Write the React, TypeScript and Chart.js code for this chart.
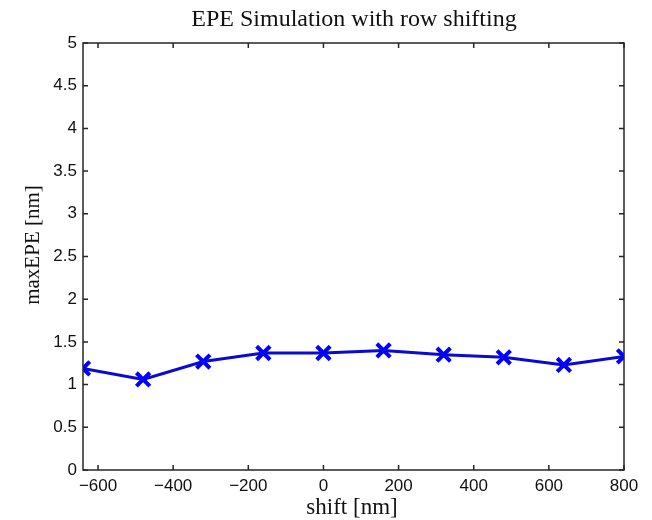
import React, { useEffect, useRef } from "react";
import { Chart, registerables } from "chart.js";

Chart.register(...registerables);

const titleText = "EPE Simulation with row shifting";
const xLabel = "shift [nm]";
const yLabel = "maxEPE [nm]";

const shiftValues = [-640, -480, -320, -160, 0, 160, 320, 480, 640, 800];
const maxEPEValues = [1.19, 1.06, 1.27, 1.37, 1.37, 1.4, 1.35, 1.32, 1.23, 1.33];

const xTickValues = [-600, -400, -200, 0, 200, 400, 600, 800];
const yTickValues = [0, 0.5, 1, 1.5, 2, 2.5, 3, 3.5, 4, 4.5, 5];

const X_MIN = -640;
const X_MAX = 800;
const Y_MIN = 0;
const Y_MAX = 5;

const serif = "'Liberation Serif', 'DejaVu Serif', serif";
const sans = "'Liberation Sans', 'DejaVu Sans', sans-serif";

const matlabFrame = {
  id: "matlabFrame",
  afterDraw(chart: any) {
    const { ctx, chartArea } = chart;
    const xs = chart.scales.x;
    const ys = chart.scales.y;
    const { left, right, top, bottom } = chartArea;
    const tl = 5;
    ctx.save();
    ctx.strokeStyle = "#262626";
    ctx.lineWidth = 1.5;
    ctx.strokeRect(left, top, right - left, bottom - top);
    ctx.beginPath();
    for (const v of xTickValues) {
      const px = xs.getPixelForValue(v);
      ctx.moveTo(px, bottom);
      ctx.lineTo(px, bottom - tl);
      ctx.moveTo(px, top);
      ctx.lineTo(px, top + tl);
    }
    for (const v of yTickValues) {
      const py = ys.getPixelForValue(v);
      ctx.moveTo(left, py);
      ctx.lineTo(left + tl, py);
      ctx.moveTo(right, py);
      ctx.lineTo(right - tl, py);
    }
    ctx.stroke();

    ctx.fillStyle = "#111";
    ctx.textAlign = "center";
    ctx.textBaseline = "middle";
    ctx.font = `24px ${serif}`;
    ctx.fillText(titleText, 354, 20);
    ctx.font = `23px ${serif}`;
    ctx.fillText(xLabel, 352, 508);
    ctx.font = `21px ${serif}`;
    ctx.translate(33, 245);
    ctx.rotate(-Math.PI / 2);
    ctx.fillText(yLabel, 0, 0);
    ctx.restore();
  },
};

export default function App() {
  const ref = useRef<HTMLCanvasElement | null>(null);

  useEffect(() => {
    if (!ref.current) return;
    const fmt = (v: any) => String(v).replace("-", "\u2212");
    const chart = new Chart(ref.current, {
      type: "line",
      data: {
        datasets: [
          {
            data: shiftValues.map((x, i) => ({ x, y: maxEPEValues[i] })),
            borderColor: "#0a0ad0",
            borderWidth: 3,
            pointStyle: "crossRot",
            pointRadius: 9.5,
            pointBorderWidth: 4,
            pointBorderColor: "#0000ff",
            pointBackgroundColor: "#0000ff",
            tension: 0,
            fill: false,
          },
        ],
      },
      options: {
        responsive: false,
        animation: false,
        layout: { padding: { top: 43, right: 28, left: 0, bottom: 0 } },
        plugins: {
          legend: { display: false },
          tooltip: { enabled: false },
          title: { display: false },
        },
        scales: {
          x: {
            type: "linear",
            min: X_MIN,
            max: X_MAX,
            afterBuildTicks: (s: any) => {
              s.ticks = xTickValues.map((v) => ({ value: v }));
            },
            afterFit: (s: any) => {
              s.height = 50;
            },
            grid: { display: false, drawTicks: false },
            border: { display: false },
            ticks: {
              padding: 6,
              color: "#111",
              font: { family: sans, size: 17 },
              maxRotation: 0,
              autoSkip: false,
              callback: fmt,
            },
          },
          y: {
            type: "linear",
            min: Y_MIN,
            max: Y_MAX,
            afterBuildTicks: (s: any) => {
              s.ticks = yTickValues.map((v) => ({ value: v }));
            },
            afterFit: (s: any) => {
              s.width = 83;
            },
            grid: { display: false, drawTicks: false },
            border: { display: false },
            ticks: {
              padding: 6,
              color: "#111",
              font: { family: sans, size: 17 },
              autoSkip: false,
              callback: fmt,
            },
          },
        },
      },
      plugins: [matlabFrame],
    });
    return () => chart.destroy();
  }, []);

  return (
    <div style={{ position: "fixed", left: 0, top: 0, width: 652, height: 520, background: "#fff" }}>
      <canvas ref={ref} width={652} height={520} />
    </div>
  );
}
